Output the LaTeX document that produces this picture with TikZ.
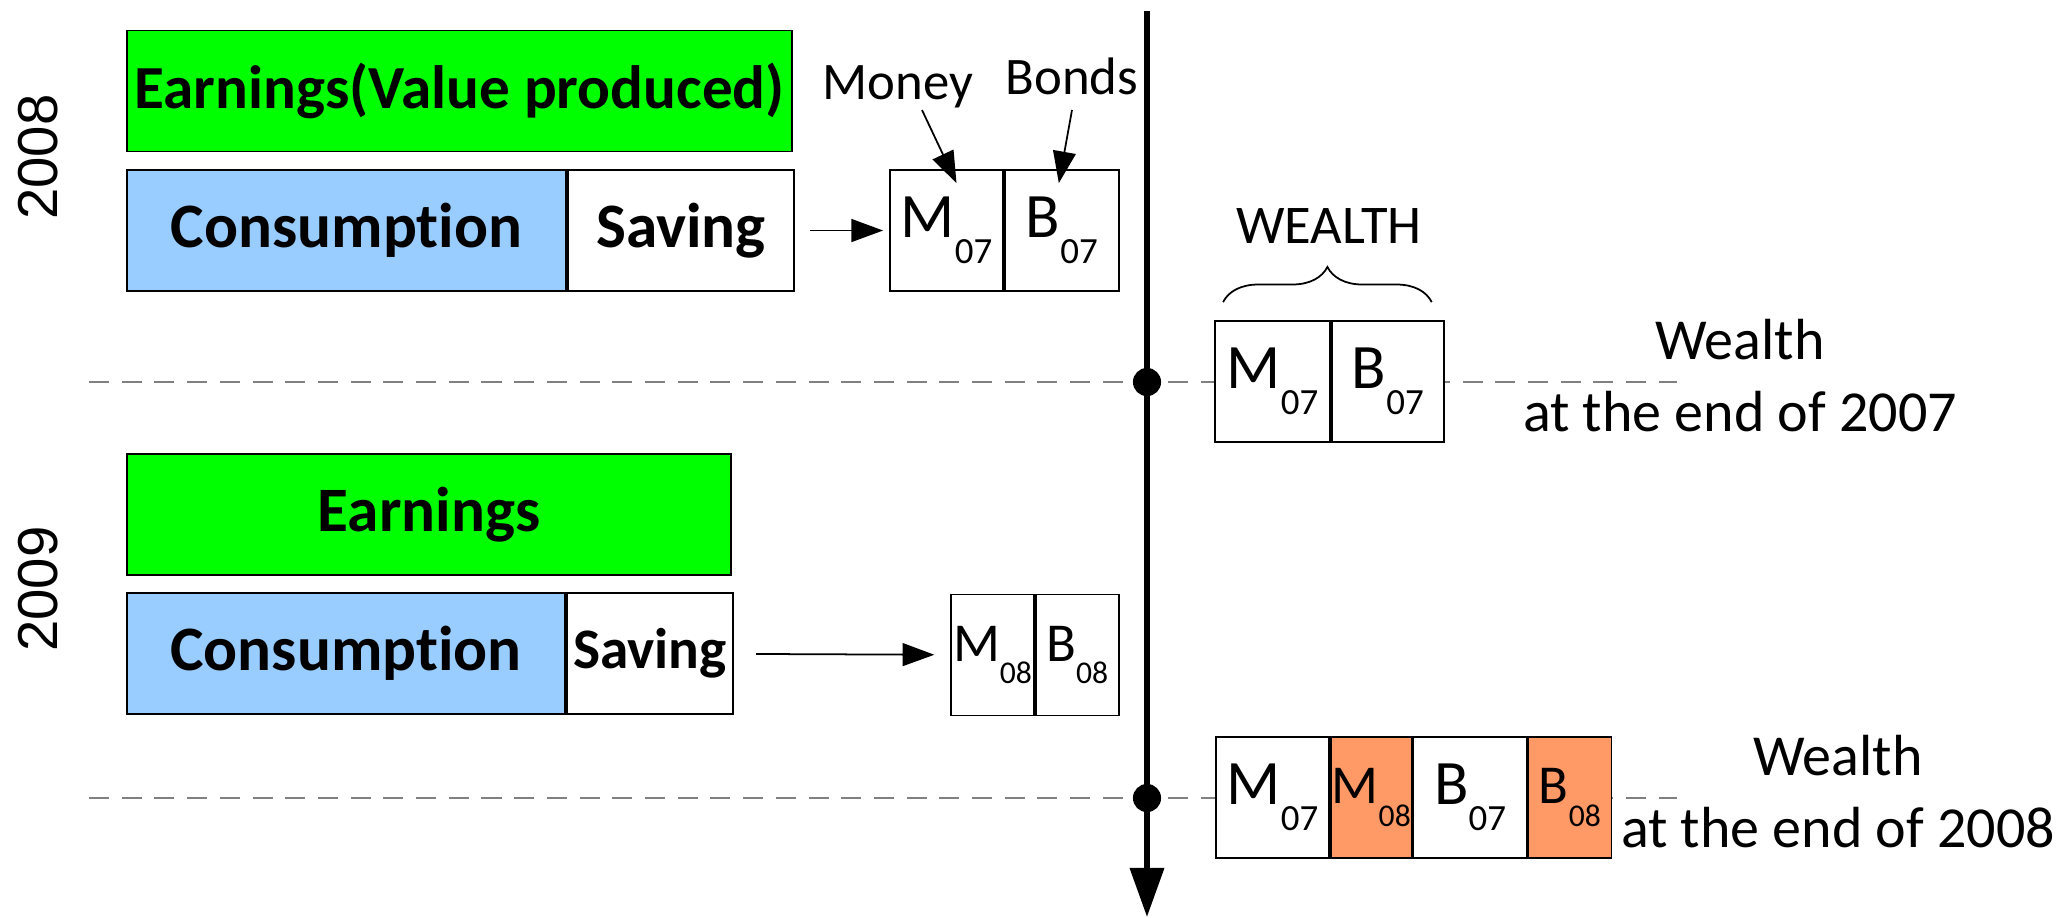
\documentclass[tikz,border=0pt]{standalone}
\usepackage{fontspec}
\setmainfont{Carlito}[Ligatures=NoCommon]
\newfontfamily\yearfont{Liberation Sans}
\usetikzlibrary{positioning,arrows.meta,decorations.pathreplacing}

\definecolor{earngreen}{RGB}{0,255,0}
\definecolor{consblue}{RGB}{153,204,255}
\definecolor{neworange}{RGB}{255,153,102}

% letter with its year written low at the right
\newcommand{\wsub}[2]{#1\raisebox{-7.5pt}{\fontsize{10.5}{10}\selectfont #2}}
% the same, for the narrow cells
\newcommand{\wsubn}[2]{{\fontsize{15.6}{17}\selectfont #1}\raisebox{-6.5pt}{\fontsize{9}{10}\selectfont #2}}

\begin{document}
\begin{tikzpicture}[x=0.01cm,y=-0.01cm,
    box/.style={draw,line width=0.5pt,inner sep=0pt,minimum height=1.21cm},
    bold/.style={font=\fontsize{18}{20}\selectfont\bfseries},
    cell/.style={box,fill=white,font=\fontsize{18}{18}\selectfont},
    tag/.style={font=\fontsize{15}{18}\selectfont,inner sep=1pt},
    note/.style={font=\fontsize{16.5}{20.5}\selectfont,align=center},
    year/.style={rotate=90,font=\yearfont\fontsize{16}{16}\selectfont},
    tdot/.style={circle,fill,inner sep=0pt,minimum size=8pt},
    feed/.style={-{Triangle[length=9pt,width=6.5pt]},line width=0.5pt},
    cut/.style={gray,line width=0.6pt,dash pattern=on 5.7pt off 3.6pt}]

  \useasboundingbox (0,0) rectangle (2056,917);

  % dashed year ends and the time line
  \coordinate (dl1) at (89,382);
  \coordinate (dr1) at (1677,382);
  \coordinate (dl2) at (89,798);
  \coordinate (dr2) at (1677,798);
  \coordinate (ttop) at (1147,11);
  \coordinate (tbot) at (1147,917);
  \draw [cut] (dl1) -- (dr1);
  \draw [cut] (dl2) -- (dr2);
  \draw [line width=1.7pt,-{Triangle[length=14pt,width=9.5pt]}] (ttop) -- (tbot);
  \node [tdot] (dot1) at (1147,382) {};
  \node [tdot] (dot2) at (1147,798) {};

  % year 2008
  \node [year] (y08) at (38,157) {2008};
  \node [box,bold,fill=earngreen,minimum width=6.65cm,
         font=\fontsize{17.4}{20}\selectfont\bfseries] (earn1) at (459.5,91) {Earnings(Value produced)};
  \node [box,bold,fill=consblue,minimum width=4.39cm] (cons1) at (346.5,230.5) {Consumption};
  \node [box,bold,fill=white,minimum width=2.26cm,right=0pt of cons1] (save1) {Saving};
  \node [cell,minimum width=1.13cm] (m07a) at (946.5,230.5) {\wsub{M}{07}};
  \node [cell,minimum width=1.14cm,right=0pt of m07a] (b07a) {\wsub{B}{07}};
  \draw [feed,shorten <=4.3pt,shorten >=1.7pt] (save1) -- (m07a);

  \node [tag,anchor=base] (money) at (898,99) {Money};
  \node [tag,anchor=base] (bonds) at (1072,94) {Bonds};
  \draw [feed] ([shift={(24,11)}]money.base) -- ([shift={(10,14)}]m07a.north);
  \draw [feed] ([shift={(0,16)}]bonds.base) -- ([shift={(-3,14)}]b07a.north);

  % wealth at the end of 2007
  \node [cell,minimum width=1.15cm] (w07m) at (1272.5,381.5) {\wsub{M}{07}};
  \node [cell,minimum width=1.12cm,right=0pt of w07m] (w07b) {\wsub{B}{07}};
  \draw [line width=0.5pt,decorate,decoration={brace,amplitude=10pt}]
    ([shift={(9,-18)}]w07m.north west) -- ([shift={(-13,-18)}]w07b.north east);
  \node [tag,anchor=base,font=\fontsize{15.5}{18}\selectfont] (wealth) at (1329,243) {WEALTH};
  \node [note] (end07) at (1740,376) {Wealth\\at the end of 2007};

  % year 2009
  \node [year] (y09) at (38,589) {2009};
  \node [box,bold,fill=earngreen,minimum width=6.04cm] (earn2) at (429,514.5) {Earnings};
  \node [box,bold,fill=consblue,minimum width=4.38cm] (cons2) at (346,653.5) {Consumption};
  \node [box,bold,fill=white,minimum width=1.66cm,right=0pt of cons2,
         font=\fontsize{16.3}{20}\selectfont\bfseries] (save2) {Saving};
  \node [cell,minimum width=0.83cm] (m08) at (992.5,655) {\wsubn{M}{08}};
  \node [cell,minimum width=0.83cm,right=0pt of m08] (b08) {\wsubn{B}{08}};
  \draw [feed,shorten <=6.3pt,shorten >=4.5pt] (save2) -- (m08);

  % wealth at the end of 2008
  \node [cell,minimum width=1.13cm] (w08m1) at (1272.5,797.5) {\wsub{M}{07}};
  \node [cell,fill=neworange,minimum width=0.81cm,right=0pt of w08m1] (w08m2) {\wsubn{M}{08}};
  \node [cell,minimum width=1.13cm,right=0pt of w08m2] (w08b1) {\wsub{B}{07}};
  \node [cell,fill=neworange,minimum width=0.83cm,right=0pt of w08b1] (w08b2) {\wsubn{B}{08}};
  \node [note] (end08) at (1838,792) {Wealth\\at the end of 2008};

\end{tikzpicture}
\end{document}
